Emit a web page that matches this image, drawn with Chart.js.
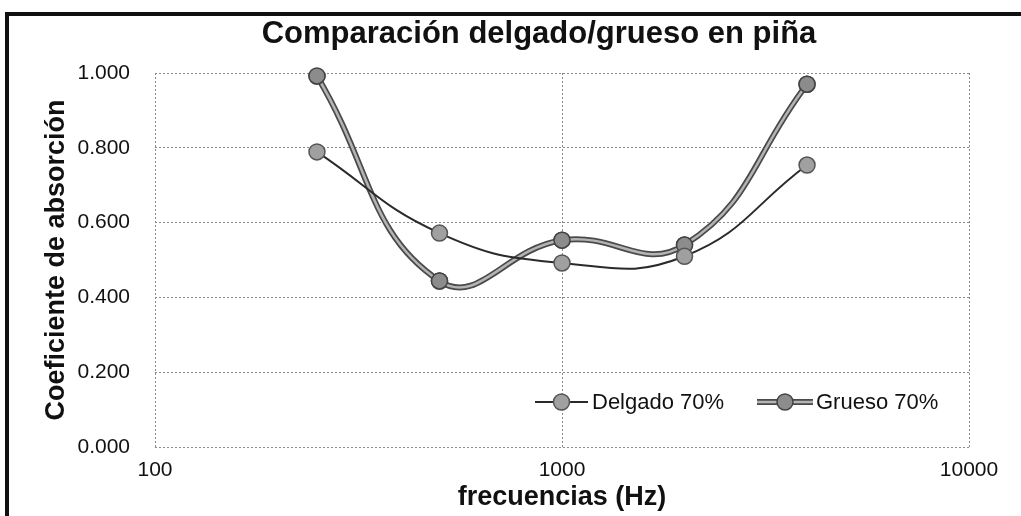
<!DOCTYPE html>
<html>
<head>
<meta charset="utf-8">
<script src="https://cdn.jsdelivr.net/npm/chart.js@4.4.1/dist/chart.umd.min.js"></script>
<style>
  html, body { margin: 0; padding: 0; background: #fff; }
  .wrap { position: relative; width: 1021px; height: 516px; overflow: hidden; }
  .frame {
    position: absolute; left: 5px; top: 12px; width: 1040px; height: 500px;
    border-left: 4px solid #111; border-top: 4px solid #111; border-bottom: 3px solid #222;
    pointer-events: none;
  }
  canvas { position: absolute; left: 0; top: 0; }
</style>
</head>
<body>
<div class="wrap">
  <canvas class="js-chart" width="1021" height="516"></canvas>
  <div class="frame"></div>
</div>
<script>
const ctx = document.querySelector('.js-chart').getContext('2d');

const FREQUENCIES = [250, 500, 1000, 2000, 4000];
const DELGADO = [0.789, 0.572, 0.492, 0.510, 0.754];
const GRUESO = [0.992, 0.444, 0.553, 0.540, 0.970];
const X_TICKS = [100, 1000, 10000];
const Y_TICKS = [0, 0.2, 0.4, 0.6, 0.8, 1.0];
const TITLE = 'Comparación delgado/grueso en piña';

const FONT = 'Liberation Sans, Arial, sans-serif';
const CORE = '#b4b4b4';

function toPoints(values) {
  return FREQUENCIES.map((f, i) => ({ x: f, y: values[i] }));
}

// chart title, a bit right of the canvas centre like the original sheet
const sheetTitle = {
  id: 'sheetTitle',
  afterDraw(chart) {
    const c = chart.ctx;
    c.save();
    c.fillStyle = '#111';
    c.font = 'bold 31px ' + FONT;
    c.textAlign = 'center';
    c.textBaseline = 'middle';
    c.fillText(TITLE, 539, 34);
    c.restore();
  }
};

// Grueso gets a light core stroked over its dark line, then its markers again
const doubleLine = {
  id: 'doubleLine',
  afterDatasetDraw(chart, args) {
    if (args.index !== 1) return;
    const meta = args.meta;
    const c = chart.ctx;
    c.save();
    c.beginPath();
    meta.dataset.path(c);
    c.strokeStyle = CORE;
    c.lineWidth = 2.5;
    c.lineJoin = 'round';
    c.stroke();
    c.restore();
    meta.data.forEach(p => p.draw(c, chart.chartArea));
  }
};

// legend sits inside the plot, lower right
const innerLegend = {
  id: 'innerLegend',
  afterDraw(chart) {
    const c = chart.ctx;
    const y = 402;
    const items = [
      { x0: 535, x1: 588, ds: chart.data.datasets[0], tx: 592 },
      { x0: 757, x1: 813, ds: chart.data.datasets[1], tx: 816 }
    ];
    c.save();
    items.forEach((it, i) => {
      c.beginPath();
      c.moveTo(it.x0, y);
      c.lineTo(it.x1, y);
      c.strokeStyle = it.ds.borderColor;
      c.lineWidth = it.ds.borderWidth;
      c.stroke();
      if (i === 1) {
        c.beginPath();
        c.moveTo(it.x0, y);
        c.lineTo(it.x1, y);
        c.strokeStyle = CORE;
        c.lineWidth = 2.5;
        c.stroke();
      }
      c.beginPath();
      c.arc((it.x0 + it.x1) / 2, y, it.ds.pointRadius, 0, Math.PI * 2);
      c.fillStyle = it.ds.pointBackgroundColor;
      c.fill();
      c.strokeStyle = it.ds.pointBorderColor;
      c.lineWidth = it.ds.pointBorderWidth;
      c.stroke();
      c.fillStyle = '#111';
      c.font = '22px ' + FONT;
      c.textBaseline = 'middle';
      c.fillText(it.ds.label, it.tx, y + 1);
    });
    c.restore();
  }
};

new Chart(ctx, {
  type: 'line',
  data: {
    datasets: [{
      label: 'Delgado 70%',
      data: toPoints(DELGADO),
      borderColor: '#2a2a2a',
      borderWidth: 2,
      tension: 0.45,
      pointRadius: 8,
      pointBackgroundColor: '#a0a0a0',
      pointBorderColor: '#555',
      pointBorderWidth: 1.5
    }, {
      label: 'Grueso 70%',
      data: toPoints(GRUESO),
      borderColor: '#4a4a4a',
      borderWidth: 6,
      tension: 0.45,
      pointRadius: 8,
      pointBackgroundColor: '#8c8c8c',
      pointBorderColor: '#444',
      pointBorderWidth: 1.5
    }]
  },
  options: {
    responsive: false,
    animation: false,
    layout: { padding: { top: 73, right: 52, bottom: 0, left: 0 } },
    plugins: {
      legend: { display: false },
      tooltip: { enabled: false },
      title: { display: false }
    },
    scales: {
      x: {
        type: 'logarithmic',
        min: 100,
        max: 10000,
        afterBuildTicks(axis) {
          axis.ticks = X_TICKS.map(v => ({ value: v }));
        },
        afterFit(axis) { axis.height = 69; },
        ticks: {
          color: '#111',
          font: { family: FONT, size: 21 },
          padding: 11,
          maxRotation: 0,
          autoSkip: false,
          callback: v => String(v)
        },
        grid: { color: '#8a8a8a', lineWidth: 1, drawTicks: false },
        border: { display: false, dash: [2, 2] },
        title: {
          display: true,
          text: 'frecuencias (Hz)',
          color: '#111',
          font: { family: FONT, size: 27, weight: 'bold', lineHeight: 1.1 },
          padding: { top: 0, bottom: 4 }
        }
      },
      y: {
        min: 0,
        max: 1,
        afterBuildTicks(axis) {
          axis.ticks = Y_TICKS.map(v => ({ value: v }));
        },
        afterFit(axis) { axis.width = 155; },
        ticks: {
          color: '#111',
          font: { family: FONT, size: 21 },
          padding: 25,
          callback: v => v.toFixed(3)
        },
        grid: { color: '#8a8a8a', lineWidth: 1, drawTicks: false },
        border: { display: false, dash: [2, 2] },
        title: {
          display: true,
          text: 'Coeficiente de absorción',
          color: '#111',
          font: { family: FONT, size: 27, weight: 'bold', lineHeight: 1.1 },
          padding: { top: 42, bottom: 0 }
        }
      }
    }
  },
  plugins: [doubleLine, innerLegend, sheetTitle]
});
</script>
</body>
</html>
